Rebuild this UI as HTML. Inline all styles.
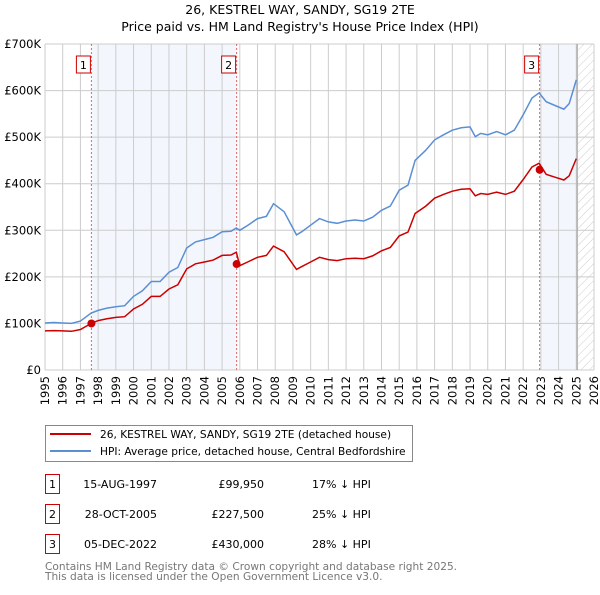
<!DOCTYPE html>
<html><head><meta charset="utf-8"><style>
body{margin:0;background:#fff;font-family:"Liberation Sans","DejaVu Sans",sans-serif;}
svg text{font-family:"DejaVu Sans","Liberation Sans",sans-serif;}
</style></head><body>
<svg id="c" width="600" height="590" viewBox="0 0 600 590" xmlns="http://www.w3.org/2000/svg">
<defs><pattern id="hatch" width="6" height="6" patternUnits="userSpaceOnUse" patternTransform="rotate(45)"><line x1="0" y1="0" x2="0" y2="6" stroke="#ccc" stroke-width="1"/></pattern></defs>
<text x="300" y="14" text-anchor="middle" font-size="12.5">26, KESTREL WAY, SANDY, SG19 2TE</text>
<text x="300" y="31" text-anchor="middle" font-size="12.5">Price paid vs. HM Land Registry's House Price Index (HPI)</text>
<g id="plot"></g>
<rect x="45.5" y="425.5" width="367" height="36" fill="#fff" stroke="#888"/>
<line x1="50" y1="434" x2="91" y2="434" stroke="#cc0000" stroke-width="2"/>
<text x="100" y="438" font-size="10.6">26, KESTREL WAY, SANDY, SG19 2TE (detached house)</text>
<line x1="50" y1="451" x2="91" y2="451" stroke="#5b8fd4" stroke-width="2"/>
<text x="100" y="455" font-size="10.6">HPI: Average price, detached house, Central Bedfordshire</text>
<g id="table" font-size="11"></g>
<text x="45" y="570" font-size="10.6" fill="#777">Contains HM Land Registry data © Crown copyright and database right 2025.</text>
<text x="45" y="580" font-size="10.6" fill="#777">This data is licensed under the Open Government Licence v3.0.</text>
</svg>
<script>
const years=[1995,1996,1997,1998,1999,2000,2001,2002,2003,2004,2005,2006,2007,2008,2009,2010,2011,2012,2013,2014,2015,2016,2017,2018,2019,2020,2021,2022,2023,2024,2025,2026];
const yTicks=[0,100000,200000,300000,400000,500000,600000,700000];
const yTickLabels=["£0","£100K","£200K","£300K","£400K","£500K","£600K","£700K"];
const hpiT=[1995,1995.5,1996,1996.5,1997,1997.6,1998,1998.5,1999,1999.5,2000,2000.5,2001,2001.5,2002,2002.5,2003,2003.5,2004,2004.5,2005,2005.5,2005.8,2006,2006.5,2007,2007.5,2007.9,2008.5,2009.2,2009.5,2010,2010.5,2011,2011.5,2012,2012.5,2013,2013.5,2014,2014.5,2015,2015.5,2015.9,2016.5,2017,2017.5,2018,2018.5,2019,2019.3,2019.6,2020,2020.5,2021,2021.5,2022,2022.5,2022.9,2023.3,2023.8,2024.3,2024.6,2025.0];
const hpiV=[101000,102000,101000,100000,105000,122000,128000,133000,136000,138000,158000,170000,190000,190000,210000,220000,262000,275000,280000,285000,297000,298000,305000,300000,312000,325000,330000,357000,340000,290000,297000,311000,325000,318000,315000,320000,322000,320000,328000,343000,352000,386000,397000,450000,472000,494000,505000,515000,520000,522000,501000,508000,505000,512000,505000,515000,548000,584000,595000,576000,568000,560000,572000,623000];
const redV=[84000,84500,84000,83000,87000,99950,106000,110000,113000,114500,131000,141000,158000,158000,174000,183000,217000,228000,232000,236000,246000,247000,253000,224000,233000,242000,246000,266000,254000,216000,222000,232000,242000,237000,235000,239000,240000,239000,245000,256000,263000,288000,296000,336000,352000,369000,377000,384000,388000,389000,374000,379000,377000,382000,377000,384000,409000,436000,444000,420000,414000,408000,417000,454000];
const saleT=[1997.62,2005.82,2022.93];
const saleV=[99950,227500,430000];
const saleLabels=["1","2","3"];
const saleDates=["15-AUG-1997","28-OCT-2005","05-DEC-2022"];
const salePrices=["£99,950","£227,500","£430,000"];
const saleDiffs=["17% ↓ HPI","25% ↓ HPI","28% ↓ HPI"];
const X0=45,X1=594,Y0=370,Y1=44,T0=1995,T1=2026,VMAX=700000;
const xs=t=>X0+(t-T0)/(T1-T0)*(X1-X0);
const ys=v=>Y0-v/VMAX*(Y0-Y1);
const NS="http://www.w3.org/2000/svg";
const plot=document.getElementById('plot');
function mk(tag,attrs,parent){const e=document.createElementNS(NS,tag);for(const k in attrs)e.setAttribute(k,attrs[k]);(parent||plot).appendChild(e);return e;}
let e;
e=mk('rect',{x:X0,y:Y1,width:X1-X0,height:Y0-Y1,fill:'#fff'});

e=mk('rect',{x:xs(saleT[0]),y:Y1,width:xs(saleT[1])-xs(saleT[0]),height:Y0-Y1,fill:'#eef3fc',opacity:0.7});

e=mk('rect',{x:xs(saleT[2]),y:Y1,width:xs(2025.1)-xs(saleT[2]),height:Y0-Y1,fill:'#eef3fc',opacity:0.7});

e=mk('rect',{x:xs(2025.1),y:Y1,width:X1-xs(2025.1),height:Y0-Y1,fill:'url(#hatch)'});

years.forEach(y=>{e=mk('line',{x1:xs(y),x2:xs(y),y1:Y1,y2:Y0,stroke:'#ccc','stroke-width':1});

e=mk('text',{x:0,y:0,'font-size':11.5,'text-anchor':'end',transform:`translate(${xs(y)+4},${Y0+6}) rotate(-90)`});e.textContent=y;
});
yTicks.forEach((v,i)=>{e=mk('line',{x1:X0,x2:X1,y1:ys(v),y2:ys(v),stroke:'#ccc','stroke-width':1});

e=mk('text',{x:X0-4,y:ys(v)+4,'font-size':11.5,'text-anchor':'end'});e.textContent=yTickLabels[i];
});
e=mk('line',{x1:xs(2025.05),x2:xs(2025.05),y1:Y1,y2:Y0,stroke:'#999','stroke-width':1});

saleT.forEach((t,i)=>{e=mk('line',{x1:xs(t),x2:xs(t),y1:Y1,y2:Y0,stroke:'#e06666','stroke-width':1,'stroke-dasharray':'2,2'});
});
function pts(T,V){return T.map((t,i)=>xs(t).toFixed(1)+','+ys(V[i]).toFixed(1)).join(' ');}
e=mk('polyline',{points:pts(hpiT,hpiV),fill:'none',stroke:'#5b8fd4','stroke-width':1.5});

e=mk('polyline',{points:pts(hpiT,redV),fill:'none',stroke:'#cc0000','stroke-width':1.5});

saleT.forEach((t,i)=>{e=mk('circle',{cx:xs(t),cy:ys(saleV[i]),r:4,fill:'#cc0000'});

e=mk('rect',{x:xs(t)-15,y:56,width:14,height:17,fill:'#fff',stroke:'#cc0000'});

e=mk('text',{x:xs(t)-8,y:69,'font-size':11,'text-anchor':'middle'});e.textContent=saleLabels[i];
});
const tb=document.getElementById('table');
saleT.forEach((t,i)=>{const y=483+i*30;
e=mk('rect',{x:45.5,y:y-8.5,width:14,height:19,fill:'#fff',stroke:'#cc0000'},tb);

e=mk('text',{x:52.5,y:y+5,'text-anchor':'middle'},tb);e.textContent=saleLabels[i];

e=mk('text',{x:157,y:y+5,'text-anchor':'end'},tb);e.textContent=saleDates[i];

e=mk('text',{x:264,y:y+5,'text-anchor':'end'},tb);e.textContent=salePrices[i];

e=mk('text',{x:312,y:y+5},tb);e.textContent=saleDiffs[i];
});
</script>
</body></html>
